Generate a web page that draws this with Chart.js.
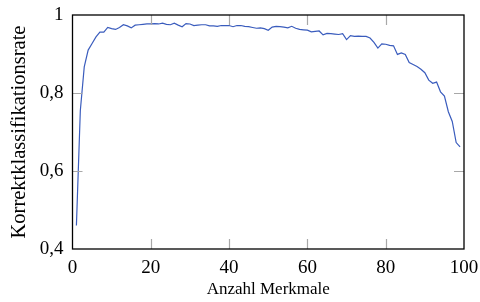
<!DOCTYPE html>
<html>
<head>
<meta charset="utf-8">
<script src="https://cdn.jsdelivr.net/npm/chart.js@4"></script>
<style>
html,body{margin:0;padding:0;background:#fff;}
#wrap{width:480px;height:302px;position:relative;}
</style>
</head>
<body>
<div id="wrap"><canvas id="c" width="480" height="302"></canvas></div>
<script>
const featureCounts = [1,2,3,4,5,6,7,8,9,10,11,12,13,14,15,16,17,18,19,20,21,22,23,24,25,26,27,28,29,30,31,32,33,34,35,36,37,38,39,40,41,42,43,44,45,46,47,48,49,50,51,52,53,54,55,56,57,58,59,60,61,62,63,64,65,66,67,68,69,70,71,72,73,74,75,76,77,78,79,80,81,82,83,84,85,86,87,88,89,90,91,92,93,94,95,96,97,98,99];
const accuracy = [0.46,0.755,0.867,0.910,0.927,0.944,0.956,0.956,0.968,0.965,
0.963,0.968,0.975,0.972,0.967,0.974,0.975,0.976,0.977,0.977,
0.978,0.977,0.979,0.976,0.975,0.979,0.974,0.970,0.978,0.977,
0.973,0.974,0.975,0.975,0.972,0.972,0.971,0.973,0.973,0.973,
0.970,0.973,0.973,0.971,0.970,0.968,0.966,0.967,0.965,0.961,
0.969,0.971,0.970,0.969,0.967,0.971,0.966,0.963,0.962,0.961,
0.957,0.958,0.959,0.949,0.953,0.952,0.951,0.950,0.952,0.937,
0.947,0.945,0.946,0.945,0.945,0.941,0.930,0.915,0.926,0.925,
0.922,0.921,0.899,0.903,0.899,0.878,0.873,0.868,0.861,0.852,
0.833,0.825,0.828,0.803,0.792,0.752,0.727,0.673,0.662];
const xTicks = [0,20,40,60,80,100];
const yTicks = [0.4,0.6,0.8,1];
const xTitle = 'Anzahl Merkmale';
const yTitle = 'Korrektklassifikationsrate';

const FONT = "'Liberation Serif', 'DejaVu Serif', serif";

const framePlugin = {
  id: 'frame',
  afterDatasetsDraw(chart) {
    const {ctx, chartArea: a, scales: {x, y}} = chart;
    ctx.save();
    ctx.strokeStyle = '#a8a8a8';
    ctx.lineWidth = 1.2;
    const L = 10;
    xTicks.forEach(v => {
      const px = Math.round(x.getPixelForValue(v)) + 0.5;
      if (v === 0 || v === 100) return;
      ctx.beginPath();
      ctx.moveTo(px, a.bottom); ctx.lineTo(px, a.bottom - L);
      ctx.moveTo(px, a.top); ctx.lineTo(px, a.top + L);
      ctx.stroke();
    });
    yTicks.forEach(v => {
      const py = Math.round(y.getPixelForValue(v)) + 0.5;
      if (v === 0.4 || v === 1) return;
      ctx.beginPath();
      ctx.moveTo(a.left, py); ctx.lineTo(a.left + L, py);
      ctx.moveTo(a.right, py); ctx.lineTo(a.right - L, py);
      ctx.stroke();
    });
    ctx.strokeStyle = '#000';
    ctx.lineWidth = 1.3;
    ctx.strokeRect(a.left, a.top, a.right - a.left, a.bottom - a.top);
    ctx.restore();
  }
};

new Chart(document.getElementById('c'), {
  type: 'line',
  data: {
    datasets: [{
      data: featureCounts.map((f, i) => ({x: f, y: accuracy[i]})),
      borderColor: '#3a5cbd',
      borderWidth: 1.2,
      pointRadius: 0,
      tension: 0,
      fill: false
    }]
  },
  options: {
    responsive: false,
    animation: false,
    devicePixelRatio: 1,
    layout: {padding: {left: 0, right: 16, top: 15, bottom: 0}},
    plugins: {legend: {display: false}, tooltip: {enabled: false}},
    scales: {
      x: {
        type: 'linear', min: 0, max: 100,
        afterBuildTicks: s => { s.ticks = xTicks.map(v => ({value: v})); },
        afterFit: s => { s.height = 53; s.paddingLeft = 0; s.paddingRight = 0; },
        grid: {display: false, drawTicks: false},
        border: {display: false},
        ticks: {color: '#000', font: {family: FONT, size: 19}, padding: 8, maxRotation: 0,
          callback: v => String(v)},
        title: {display: true, text: xTitle, color: '#000', font: {family: FONT, size: 17}, padding: {top: 0, bottom: 2}}
      },
      y: {
        type: 'linear', min: 0.4, max: 1,
        afterBuildTicks: s => { s.ticks = yTicks.map(v => ({value: v})); },
        afterFit: s => { s.width = 72.5; s.paddingTop = 0; s.paddingBottom = 0; },
        grid: {display: false, drawTicks: false},
        border: {display: false},
        ticks: {color: '#000', font: {family: FONT, size: 19}, padding: 9,
          callback: v => String(v).replace('.', ',')},
        title: {display: true, text: yTitle, color: '#000', font: {family: FONT, size: 20.5}, padding: {top: 7, bottom: 0}}
      }
    }
  },
  plugins: [framePlugin]
});
</script>
</body>
</html>
